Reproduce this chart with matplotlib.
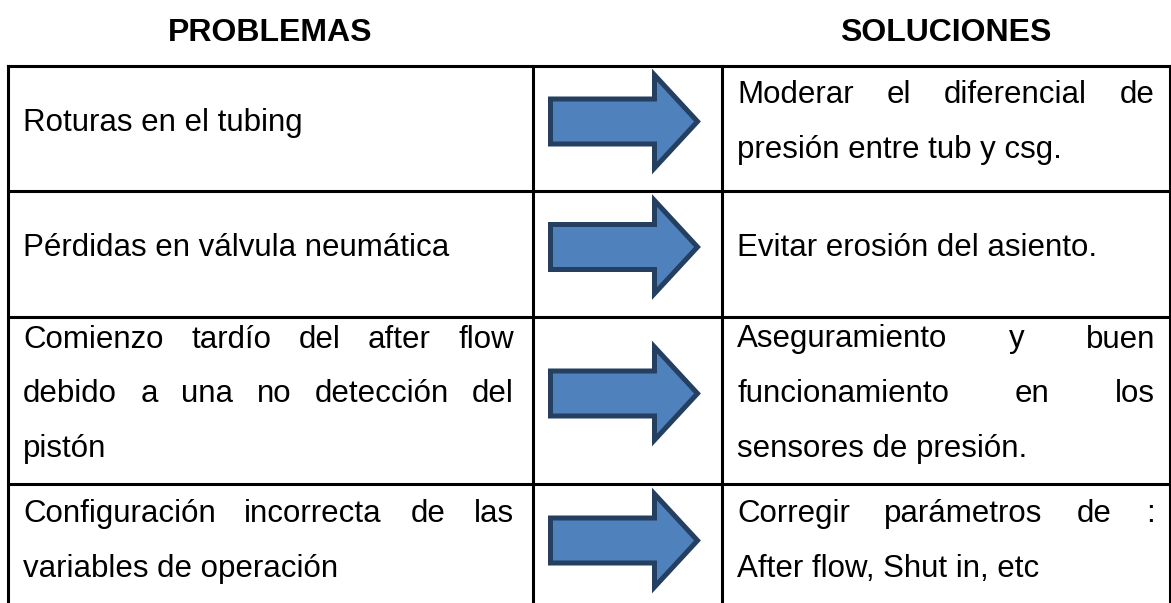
import matplotlib
matplotlib.use("Agg")
import matplotlib.pyplot as plt
from matplotlib.patches import Polygon

# ---------------- data ----------------
headers = ["PROBLEMAS", "SOLUCIONES"]
problems = [
    ["Roturas en el tubing"],
    ["Pérdidas en válvula neumática"],
    ["Comienzo tardío del after flow", "debido a una no detección del", "pistón"],
    ["Configuración incorrecta de las", "variables de operación"],
]
solutions = [
    ["Moderar el diferencial de", "presión entre tub y csg."],
    ["Evitar erosión del asiento."],
    ["Aseguramiento y buen", "funcionamiento en los", "sensores de presión."],
    ["Corregir parámetros de :", "After flow, Shut in, etc"],
]

# ---------------- layout ----------------
W, H = 1171, 603
col_x = [8, 533, 722, 1170]
row_y = [66, 191, 317, 484, 611]
LINE_SP = 55
CENTER_OFF = -7
FS = 22.5
FS_HEAD = 23
FONT = "Liberation Sans"
LW = 2.2
FILL = "#4F81BD"
EDGE = "#243F60"
CAP_HALF = 9

fig = plt.figure(figsize=(W / 100, H / 100), dpi=100)
ax = fig.add_axes([0, 0, 1, 1])
ax.set_xlim(0, W)
ax.set_ylim(H, 0)
ax.axis("off")
renderer = fig.canvas.get_renderer()

# grid lines
for y in row_y[:-1]:
    ax.plot([col_x[0], col_x[-1]], [y, y], color="black", lw=LW, solid_capstyle="projecting")
for x in col_x:
    ax.plot([x, x], [row_y[0], H + 5], color="black", lw=LW, solid_capstyle="projecting")

# headers
ax.text((col_x[0] + col_x[1]) / 2, 41, headers[0], ha="center", va="baseline",
        fontsize=FS_HEAD, fontweight="bold", family=FONT)
ax.text((col_x[2] + col_x[3]) / 2, 41, headers[1], ha="center", va="baseline",
        fontsize=FS_HEAD, fontweight="bold", family=FONT)


def word_width(w):
    t = ax.text(0, 0, w, fontsize=FS, family=FONT)
    bb = t.get_window_extent(renderer)
    t.remove()
    return bb.width


def draw_para(lines, x0, x1, yc):
    n = len(lines)
    for i, line in enumerate(lines):
        yb = yc + (i - (n - 1) / 2) * LINE_SP + CAP_HALF
        words = line.split()
        if i == n - 1 or len(words) == 1:
            ax.text(x0, yb, line, ha="left", va="baseline", fontsize=FS, family=FONT)
            continue
        widths = [word_width(w) for w in words]
        gap = (x1 - x0 - sum(widths)) / (len(words) - 1)
        x = x0
        for w, wd in zip(words, widths):
            ax.text(x, yb, w, ha="left", va="baseline", fontsize=FS, family=FONT)
            x += wd + gap


def draw_arrow(yc):
    xl, xb, xt = 550.5, 654.5, 697.5
    hs, hh = 22.5, 46.5
    pts = [(xl, yc - hs), (xb, yc - hs), (xb, yc - hh), (xt, yc),
           (xb, yc + hh), (xb, yc + hs), (xl, yc + hs)]
    ax.add_patch(Polygon(pts, closed=True, facecolor=FILL, edgecolor=EDGE,
                         lw=3.6, joinstyle="miter"))


for r in range(len(problems)):
    yc = (row_y[r] + row_y[r + 1]) / 2 + CENTER_OFF
    draw_para(problems[r], col_x[0] + 15, col_x[1] - 19, yc)
    draw_para(solutions[r], col_x[2] + 15, col_x[3] - 15, yc)
    draw_arrow(yc)

fig.savefig("out.png", dpi=100)
